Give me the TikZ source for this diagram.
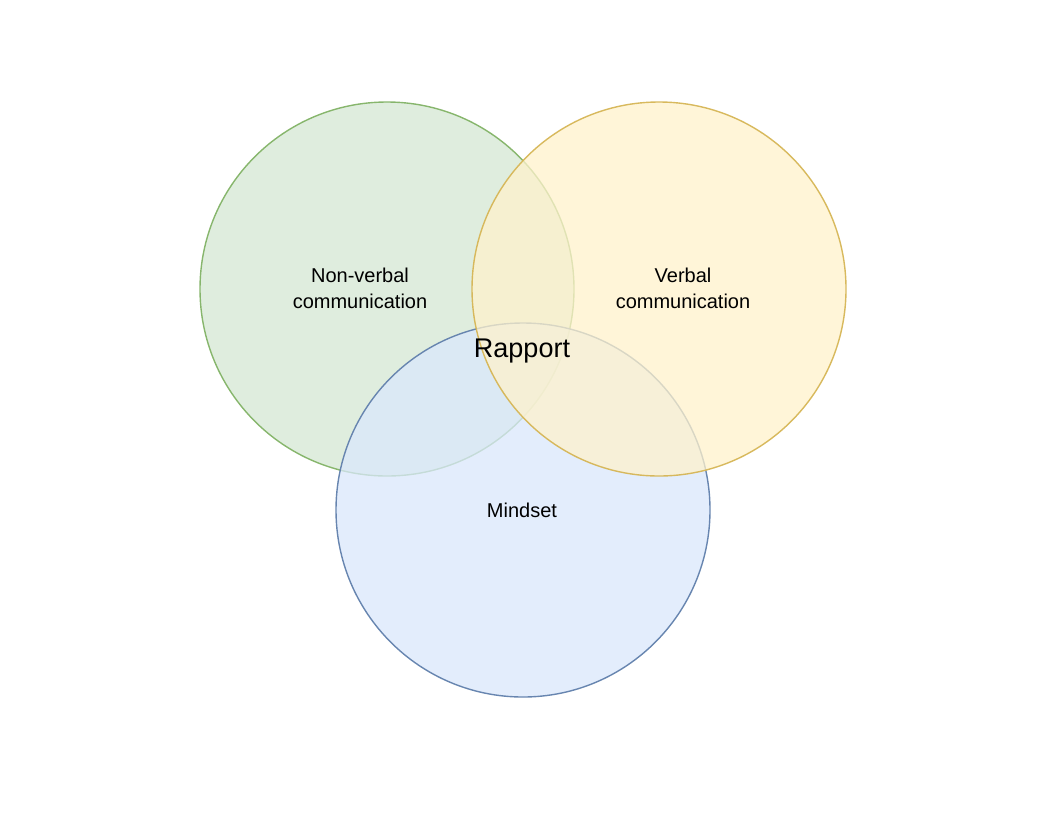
\documentclass[tikz,border=0pt]{standalone}
\usepackage{fontspec}
\setmainfont{Liberation Sans}
\definecolor{gfill}{HTML}{D5E8D4}\definecolor{gline}{HTML}{82B366}
\definecolor{yfill}{HTML}{FFF2CC}\definecolor{yline}{HTML}{D6B656}
\definecolor{bfill}{HTML}{DAE8FC}\definecolor{bline}{HTML}{6C8EBF}
\tikzset{venn/.style={circle,minimum size=374pt,inner sep=0pt,line width=1.4pt,fill opacity=0.75,draw opacity=0.95},
lbl/.style={font=\fontsize{20}{26}\selectfont,align=center,text=black}}
\begin{document}
\begin{tikzpicture}[x=1pt,y=-1pt]
\useasboundingbox[fill=white] (0,0) rectangle (1052,812);
\node[venn,draw=gline,fill=gfill] (green) at (387,289) {};
\node[venn,draw=bline!90!black,fill=bfill] (blue) at (523,510) {};
\node[venn,draw=yline,fill=yfill] (yellow) at (659,289) {};
\node[lbl] (nv) at (360,288) {Non-verbal\\communication};
\node[lbl] (vb) at (683,288) {Verbal\\communication};
\node[lbl] (ms) at (522,510) {Mindset};
\node[font=\fontsize{27}{32}\selectfont] (rp) at (522,351) {Rapport};
\end{tikzpicture}
\end{document}
